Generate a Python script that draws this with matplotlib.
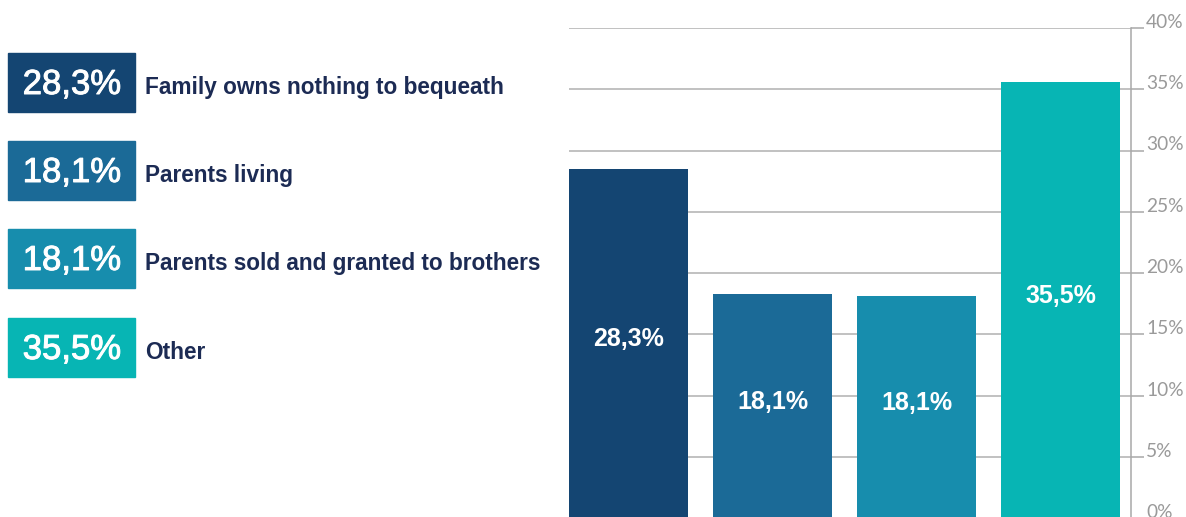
import numpy as np
import matplotlib.pyplot as plt
from matplotlib.patches import Rectangle
import matplotlib.patheffects as pe

categories = ['Family owns nothing to bequeath', 'Parents living',
              'Parents sold and granted to brothers', 'Other']
values = [28.5, 18.3, 18.1, 35.6]   # bar heights as drawn
value_labels = ['28,3%', '18,1%', '18,1%', '35,5%']
colors = ['#144572', '#1b6a97', '#178dad', '#07b5b4']
yticks = [0, 5, 10, 15, 20, 25, 30, 35, 40]
ytick_labels = ['0%', '5%', '10%', '15%', '20%', '25%', '30%', '35%', '40%']

W, H = 1186, 517
fig = plt.figure(figsize=(W / 100, H / 100), dpi=100)

# bar chart on the right
ax = fig.add_axes([569 / W, -1 / H, (1131 - 569) / W, (518 - 28) / H])
x = np.arange(len(values))
ax.bar(x, values, width=0.826, color=colors, zorder=3)
ax.set_xlim(-0.413, 3.49)
ax.set_ylim(0, 40)
ax.yaxis.tick_right()
ax.set_yticks(yticks)
ax.set_yticklabels(ytick_labels, fontfamily='Lato', fontsize=13.8, color='#9a9a9a')
for tk in ax.yaxis.get_major_ticks():
    tk.label2.set_va('baseline')
ax.tick_params(axis='y', direction='out', length=9, width=1.1, color='#a8a8a8', pad=2)
ax.set_xticks([])
ax.grid(axis='y', color='#b0b0b0', linewidth=1.1, zorder=0)
for s in ['top', 'left', 'bottom']:
    ax.spines[s].set_visible(False)
ax.spines['right'].set_color('#a8a8a8')
ax.spines['right'].set_linewidth(1.1)
for i, v in enumerate(values):
    ax.text(i, v / 2 + 0.35, value_labels[i], ha='center', va='center',
            color='white', fontsize=18, fontweight='bold',
            fontfamily='Liberation Sans', zorder=4)

# legend boxes on the left
box_tops = [53, 141, 229, 318]
box_h = 59
for top, lab, val, c in zip(box_tops, categories, value_labels, colors):
    y0 = 1 - (top + box_h) / H
    fig.patches.append(Rectangle((8 / W, y0), 127 / W, box_h / H,
                                 transform=fig.transFigure, color=c))
    yb = 1 - (top + 41) / H
    fig.text(72 / W, yb, val, ha='center', va='baseline', color='white',
             fontsize=25, fontfamily='Liberation Sans',
             path_effects=[pe.withStroke(linewidth=0.7, foreground='white')])
    fig.text(145 / W, yb, lab, ha='left', va='baseline', color='#1c2b54',
             fontsize=16.3, fontweight='bold', fontfamily='Liberation Sans')

fig.savefig('out.png', dpi=100)
